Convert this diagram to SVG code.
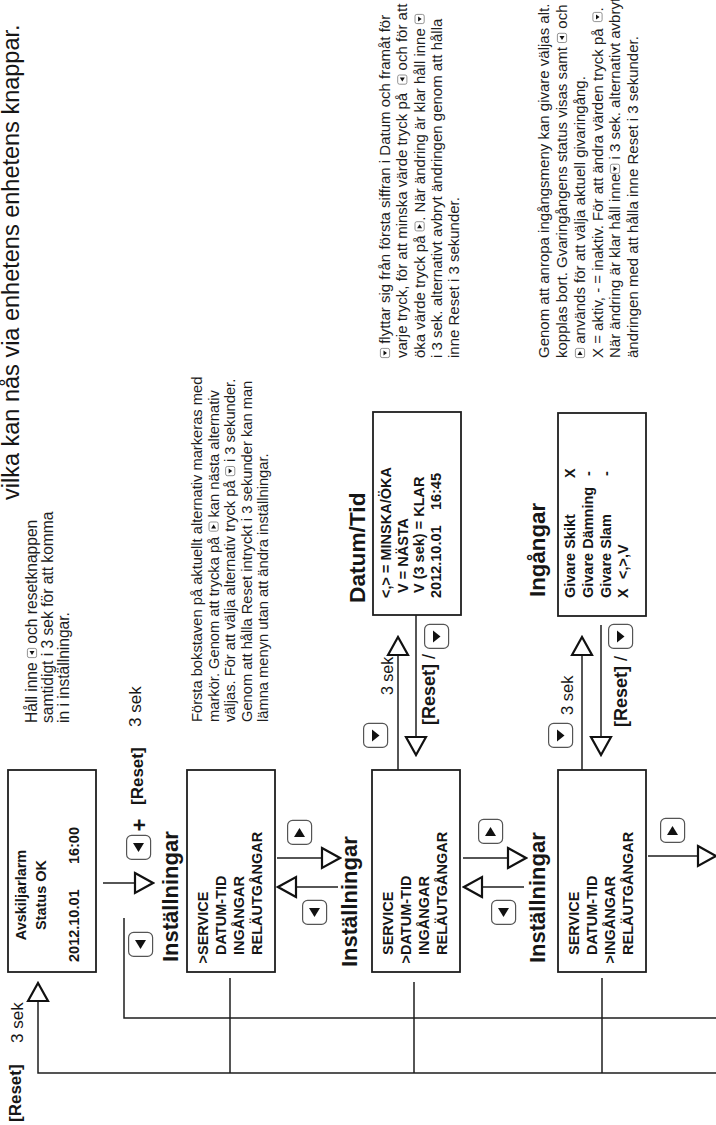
<svg xmlns="http://www.w3.org/2000/svg" xmlns:xlink="http://www.w3.org/1999/xlink" width="716" height="1125" viewBox="0 0 716 1125">
<style>
text{font-family:"Liberation Sans",Arial,Helvetica,sans-serif;fill:#161616}
.box{fill:#fff;stroke:#1e1e1e;stroke-width:1.8}
.bt{font-weight:bold;font-size:14.5px}
.desc{font-size:15px;fill:#1e1e1e}
.title{font-weight:bold;font-size:22px}
.lbl{font-size:17px}
.lblb{font-size:17px;font-weight:bold}
.conn{fill:none;stroke:#1e1e1e;stroke-width:1.5}
.arr{marker-end:url(#ah)}
</style>
<defs>
<marker id="ah" viewBox="0 0 22 24" markerWidth="22" markerHeight="24" refX="20" refY="12" orient="auto" markerUnits="userSpaceOnUse">
<path d="M2,2 L20,12 L2,22 Z" fill="#fff" stroke="#111" stroke-width="2.2"/>
</marker>
<g id="bL"><rect x="0.6" y="0.6" width="24" height="24" rx="5" fill="#fff" stroke="#555" stroke-width="1.2"/><path d="M8,12.5 L17,7 L17,18 Z" fill="#111"/></g>
<g id="bR"><rect x="0.6" y="0.6" width="24" height="24" rx="5" fill="#fff" stroke="#555" stroke-width="1.2"/><path d="M17,12.5 L8,7 L8,18 Z" fill="#111"/></g>
<g id="bD"><rect x="0.6" y="0.6" width="24" height="24" rx="5" fill="#fff" stroke="#555" stroke-width="1.2"/><path d="M6.5,9 L18.5,9 L12.5,16.5 Z" fill="#111"/></g>
<g id="iL"><rect x="0.4" y="0.4" width="9.2" height="9.2" rx="1.8" fill="#fff" stroke="#777" stroke-width="0.8"/><path d="M3,5 L7,2.5 L7,7.5 Z" fill="#111"/></g>
<g id="iR"><rect x="0.4" y="0.4" width="9.2" height="9.2" rx="1.8" fill="#fff" stroke="#777" stroke-width="0.8"/><path d="M7,5 L3,2.5 L3,7.5 Z" fill="#111"/></g>
<g id="iD"><rect x="0.4" y="0.4" width="9.2" height="9.2" rx="1.8" fill="#fff" stroke="#777" stroke-width="0.8"/><path d="M2.5,3.5 L7.5,3.5 L5,7 Z" fill="#111"/></g>
</defs>
<rect width="716" height="1125" fill="#fff"/>
<g transform="translate(0 1125) rotate(-90)">

<g id="connectors">
<path class="conn arr" d="M242,103 L242,153"/>
<path class="conn arr" d="M267,277 L267,340"/>
<path class="conn arr" d="M238,338 L238,278"/>
<path class="conn arr" d="M267,463 L267,526"/>
<path class="conn arr" d="M238,524 L238,464"/>
<path class="conn arr" d="M269,648 L269,716"/>
<path class="conn arr" d="M355,398 L488,398"/>
<path class="conn arr" d="M512,416 L370,416"/>
<path class="conn arr" d="M355,582 L488,582"/>
<path class="conn arr" d="M500,601 L370,601"/>
<path class="conn arr" d="M52,716 L52,38 L142,38"/>
<path class="conn" d="M147,230 L52,230"/>
<path class="conn" d="M143,414 L52,414"/>
<path class="conn" d="M147,602 L52,602"/>
<path class="conn" d="M107,716 L107,124 L207,124"/>
</g>

<g id="connector-labels">
<use href="#bL" x="265" y="126"/>
<text class="lblb" x="300" y="147" text-anchor="middle" style="font-size:22px">+</text>
<text class="lblb" x="320" y="143">[Reset]</text>
<text class="lbl" x="398" y="140.5">3 sek</text>
<use href="#bL" x="168" y="128"/>
<use href="#bR" x="280" y="287"/>
<use href="#bL" x="200" y="302"/>
<use href="#bR" x="281" y="478"/>
<use href="#bL" x="200" y="491"/>
<use href="#bR" x="282" y="660"/>
<text class="lblb" x="3" y="20.5">[Reset]</text>
<text class="lbl" x="82" y="22.5">3 sek</text>
<use href="#bD" x="377" y="363"/>
<text class="lbl" x="430" y="392.5" style="font-size:16px">3 sek</text>
<text class="lblb" x="400" y="435" style="font-size:18px">[Reset]<tspan style="font-weight:normal"> /</tspan></text>
<use href="#bD" x="476" y="424"/>
<use href="#bD" x="377" y="548"/>
<text class="lbl" x="410" y="573" style="font-size:16.5px">3 sek</text>
<text class="lblb" x="398" y="626.5" style="font-size:18px">[Reset]<tspan style="font-weight:normal"> /</tspan></text>
<use href="#bD" x="476" y="608"/>
</g>

<g id="main-status">
<rect class="box" x="153" y="8" width="202" height="88"/>
<text class="bt" x="230" y="25.8" text-anchor="middle">Avskiljarlarm</text>
<text class="bt" x="230" y="45.5" text-anchor="middle">Status OK</text>
<text class="bt" x="163" y="79">2012.10.01</text>
<text class="bt" x="298" y="79" text-anchor="end">16:00</text>
</g>

<g id="settings-service">
<text class="title" x="163" y="178">Inställningar</text>
<rect class="box" x="153" y="187" width="202" height="88"/>
<text class="bt" x="161.5" y="208">&gt;SERVICE</text>
<text class="bt" x="170" y="226">DATUM-TID</text>
<text class="bt" x="170" y="244">INGÅNGAR</text>
<text class="bt" x="170" y="262">RELÄUTGÅNGAR</text>
</g>

<g id="settings-datum">
<text class="title" x="158" y="356.5">Inställningar</text>
<rect class="box" x="153" y="372" width="202" height="88"/>
<text class="bt" x="170" y="393">SERVICE</text>
<text class="bt" x="161.5" y="411">&gt;DATUM-TID</text>
<text class="bt" x="170" y="429">INGÅNGAR</text>
<text class="bt" x="170" y="447">RELÄUTGÅNGAR</text>
</g>

<g id="settings-ingangar">
<text class="title" x="162" y="544.5">Inställningar</text>
<rect class="box" x="153" y="558" width="202" height="88"/>
<text class="bt" x="170" y="579">SERVICE</text>
<text class="bt" x="170" y="597">DATUM-TID</text>
<text class="bt" x="161.5" y="615">&gt;INGÅNGAR</text>
<text class="bt" x="170" y="633">RELÄUTGÅNGAR</text>
</g>

<g id="datum-tid">
<text class="title" x="522" y="365" style="font-size:22.7px">Datum/Tid</text>
<rect class="box" x="510" y="373" width="203" height="88"/>
<text class="bt" x="527" y="390.5">&lt;,&gt; = MINSKA/ÖKA</text>
<text class="bt" x="532" y="407.5">V = NÄSTA</text>
<text class="bt" x="532" y="423.5">V (3 sek) = KLAR</text>
<text class="bt" x="527" y="440.5">2012.10.01</text>
<text class="bt" x="652" y="440.5" text-anchor="end">16:45</text>
</g>

<g id="ingangar">
<text class="title" x="528" y="544.5" style="font-size:22.3px">Ingångar</text>
<rect class="box" x="509" y="558" width="203" height="88"/>
<text class="bt" x="527" y="575">Givare Skikt</text>
<text class="bt" x="647" y="575">X</text>
<text class="bt" x="527" y="592.5">Givare Dämning</text>
<text class="bt" x="649" y="592.5">-</text>
<text class="bt" x="527" y="610.5">Givare Slam</text>
<text class="bt" x="649" y="610.5">-</text>
<text class="bt" x="527" y="628">X</text>
<text class="bt" x="546" y="628">&lt;,&gt;,V</text>
</g>

<g id="note-top">
<text x="625" y="19" style="font-size:23.5px">vilka kan nås via enhetens enhetens knappar.</text>
</g>

<g id="note-enter">
<text class="desc" x="402" y="37" style="font-size:15.6px">Håll inne <tspan x="481.3">och resetknappen</tspan></text>
<use href="#iL" x="467" y="27"/>
<text class="desc" x="402" y="53" style="font-size:15.6px">samtidigt i 3 sek för att komma</text>
<text class="desc" x="402" y="69" style="font-size:15.6px">in i inställningar.</text>
</g>

<g id="note-menu">
<text class="desc" x="403" y="202" style="font-size:14.7px">Första bokstaven på aktuellt alternativ markeras med</text>
<text class="desc" x="403" y="218.6" style="font-size:14.7px">markör. Genom att trycka på <tspan x="607.5">kan nästa alternativ</tspan></text>
<use href="#iR" x="593.4" y="208.6"/>
<text class="desc" x="403" y="235.2" style="font-size:14.7px">väljas. För att välja alternativ tryck på <tspan x="663">i 3 sekunder.</tspan></text>
<use href="#iD" x="648.9" y="225.2"/>
<text class="desc" x="403" y="251.8" style="font-size:14.7px">Genom att hålla Reset intryckt i 3 sekunder kan man</text>
<text class="desc" x="403" y="268.4" style="font-size:14.7px">lämna menyn utan att ändra inställningar.</text>
</g>

<g id="note-datum">
<use href="#iD" x="767" y="380"/>
<text class="desc" x="781.2" y="390">flyttar sig från första siffran i Datum och framåt för</text>
<text class="desc" x="767" y="407.3">varje tryck, för att minska värde tryck på <tspan x="1054.6">och för att</tspan></text>
<use href="#iL" x="1040.4" y="397.3"/>
<text class="desc" x="767" y="424.6">öka värde tryck på <tspan x="904.2">. När ändring är klar håll inne</tspan></text>
<use href="#iR" x="893.7" y="414.6"/>
<use href="#iD" x="1101" y="414.6"/>
<text class="desc" x="767" y="442">i 3 sek. alternativt avbryt ändringen genom att hålla</text>
<text class="desc" x="767" y="459.3">inne Reset i 3 sekunder.</text>
</g>

<g id="note-ingangar">
<text class="desc" x="767" y="549">Genom att anropa ingångsmeny kan givare väljas alt.</text>
<text class="desc" x="767" y="567">kopplas bort. Gvaringångens status visas samt <tspan x="1096.3">och</tspan></text>
<use href="#iL" x="1082.1" y="557"/>
<use href="#iR" x="767" y="575"/>
<text class="desc" x="781.2" y="585">används för att välja aktuell givaringång.</text>
<text class="desc" x="767" y="602.5">X = aktiv, - = inaktiv. För att ändra värden tryck på <tspan x="1113.5">.</tspan></text>
<use href="#iD" x="1103" y="592.5"/>
<text class="desc" x="767" y="620">När ändring är klar håll inne<tspan x="965.4">i 3 sek. alternativt avbryt</tspan></text>
<use href="#iD" x="951.2" y="610"/>
<text class="desc" x="767" y="638">ändringen med att hålla inne Reset i 3 sekunder.</text>
</g>

</g>
</svg>
